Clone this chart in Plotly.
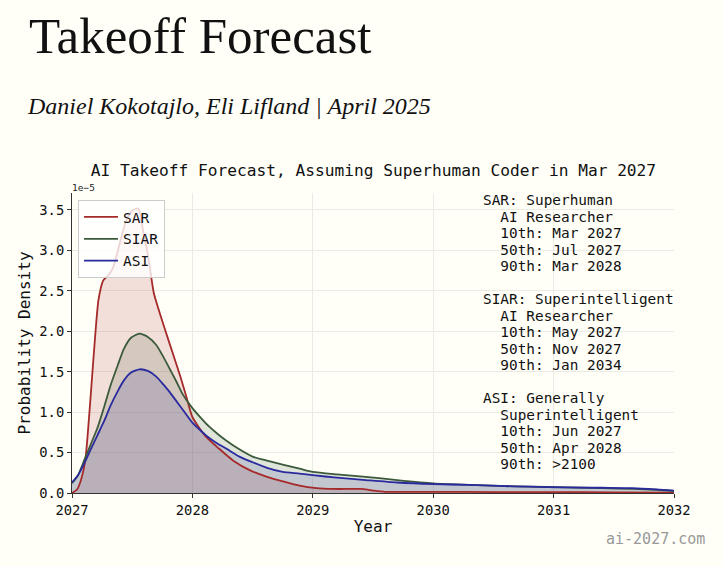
import plotly.graph_objects as go

# ---------------- data (density in units of 1e-5) ----------------
sar_x = [2027.00, 2027.04, 2027.07, 2027.11, 2027.15, 2027.18, 2027.22, 2027.26, 2027.30, 2027.34,
         2027.39, 2027.45, 2027.50, 2027.55, 2027.59, 2027.63, 2027.68, 2027.73, 2027.81, 2027.90,
         2027.95, 2028.00, 2028.11, 2028.22, 2028.34, 2028.48, 2028.62, 2028.76, 2028.89, 2029.03,
         2029.17, 2029.30, 2029.40, 2029.50, 2029.60, 2030.00, 2030.50, 2031.00, 2031.50, 2032.00]
sar_y = [0.00, 0.04, 0.14, 0.40, 1.10, 1.70, 2.39, 2.63, 2.69, 2.78,
         3.05, 3.37, 3.49, 3.52, 3.25, 2.95, 2.47, 2.22, 1.85, 1.44,
         1.19, 0.94, 0.70, 0.55, 0.40, 0.28, 0.20, 0.14, 0.09, 0.06,
         0.05, 0.05, 0.05, 0.03, 0.015, 0.015, 0.012, 0.010, 0.008, 0.005]

siar_x = [2027.00, 2027.05, 2027.10, 2027.15, 2027.21, 2027.27, 2027.32, 2027.38, 2027.43, 2027.49,
          2027.56, 2027.63, 2027.70, 2027.76, 2027.81, 2027.87, 2027.92, 2028.00, 2028.07, 2028.14,
          2028.21, 2028.28, 2028.39, 2028.50, 2028.62, 2028.75, 2028.89, 2029.00, 2029.20, 2029.44,
          2029.70, 2030.00, 2030.30, 2030.55, 2030.80, 2031.10, 2031.40, 2031.66, 2031.85, 2032.00]
siar_y = [0.12, 0.22, 0.40, 0.58, 0.80, 1.08, 1.33, 1.58, 1.78, 1.92,
          1.97, 1.93, 1.83, 1.68, 1.54, 1.37, 1.22, 1.05, 0.93, 0.82,
          0.73, 0.65, 0.54, 0.45, 0.40, 0.35, 0.30, 0.26, 0.23, 0.20,
          0.16, 0.12, 0.10, 0.087, 0.078, 0.070, 0.060, 0.050, 0.040, 0.025]

asi_x = [2027.00, 2027.05, 2027.10, 2027.15, 2027.21, 2027.27, 2027.32, 2027.38, 2027.43, 2027.49,
         2027.56, 2027.63, 2027.70, 2027.76, 2027.81, 2027.87, 2027.92, 2028.00, 2028.07, 2028.14,
         2028.21, 2028.28, 2028.39, 2028.50, 2028.62, 2028.75, 2028.89, 2029.00, 2029.20, 2029.44,
         2029.70, 2030.00, 2030.30, 2030.55, 2030.80, 2031.10, 2031.40, 2031.66, 2031.85, 2032.00]
asi_y = [0.13, 0.22, 0.36, 0.52, 0.71, 0.90, 1.08, 1.26, 1.39, 1.49,
         1.53, 1.51, 1.44, 1.34, 1.25, 1.13, 1.03, 0.87, 0.77, 0.68,
         0.61, 0.55, 0.45, 0.38, 0.31, 0.26, 0.24, 0.22, 0.19, 0.16,
         0.13, 0.11, 0.10, 0.087, 0.078, 0.070, 0.065, 0.060, 0.045, 0.030]

series_names = ["SAR", "SIAR", "ASI"]
x_tick_vals = [2027, 2028, 2029, 2030, 2031, 2032]
x_tick_text = ["2027", "2028", "2029", "2030", "2031", "2032"]
y_tick_vals = [0.0, 0.5, 1.0, 1.5, 2.0, 2.5, 3.0, 3.5]

info_lines = [
    "SAR: Superhuman", "  AI Researcher", "  10th: Mar 2027", "  50th: Jul 2027", "  90th: Mar 2028",
    "",
    "SIAR: Superintelligent", "  AI Researcher", "  10th: May 2027", "  50th: Nov 2027", "  90th: Jan 2034",
    "",
    "ASI: Generally", "  Superintelligent", "  10th: Jun 2027", "  50th: Apr 2028", "  90th: >2100",
]

# ---------------- style ----------------
W, H = 723, 566
L, R, T, B = 72, 674, 193, 493
BG = "#fffff8"
MONO = "DejaVu Sans Mono"
line_colors = ["#a52a2a", "#3b5a3b", "#2a2a9e"]
fill_colors = ["rgba(165,42,42,0.15)", "rgba(47,79,47,0.15)", "rgba(31,31,154,0.15)"]

def px_x(px):
    return (px - L) / (R - L)

def px_y(py):
    return (B - py) / (B - T)

xs = [sar_x, siar_x, asi_x]
ys = [sar_y, siar_y, asi_y]

fig = go.Figure()
for i in range(3):
    fig.add_trace(go.Scatter(
        x=xs[i], y=ys[i], mode="lines", fill="tozeroy",
        fillcolor=fill_colors[i], line=dict(width=0, shape="spline", smoothing=0.6),
        showlegend=False, hoverinfo="skip"))
for i in range(3):
    fig.add_trace(go.Scatter(
        x=xs[i], y=ys[i], mode="lines", name=series_names[i],
        line=dict(color=line_colors[i], width=1.8, shape="spline", smoothing=0.6)))

annotations = []
annotations.append(dict(text="Takeoff Forecast", xref="paper", yref="paper",
                        x=px_x(27), y=px_y(36), xanchor="left", yanchor="middle",
                        showarrow=False, font=dict(family="Liberation Serif", size=51, color="#111111")))
annotations.append(dict(text="<i>Daniel Kokotajlo, Eli Lifland | April 2025</i>", xref="paper", yref="paper",
                        x=px_x(25), y=px_y(106), xanchor="left", yanchor="middle",
                        showarrow=False, font=dict(family="Liberation Serif", size=24, color="#111111")))
annotations.append(dict(text="1e\u22125", xref="paper", yref="paper",
                        x=px_x(70), y=px_y(187.5), xanchor="left", yanchor="middle",
                        showarrow=False, font=dict(family=MONO, size=9.5, color="#222222")))
for k, line in enumerate(info_lines):
    if not line:
        continue
    annotations.append(dict(text=line.replace(" ", "\u00a0"), xref="paper", yref="paper",
                            x=px_x(481), y=px_y(200 + 16.5 * k), xanchor="left", yanchor="middle",
                            showarrow=False, font=dict(family=MONO, size=14.4, color="#111111")))
annotations.append(dict(text="ai-2027.com", xref="paper", yref="paper",
                        x=px_x(707), y=px_y(539), xanchor="right", yanchor="middle",
                        showarrow=False, font=dict(family=MONO, size=15, color="#999999")))

fig.update_layout(
    width=W, height=H,
    margin=dict(l=L, r=W - R, t=T, b=H - B, autoexpand=False),
    paper_bgcolor=BG, plot_bgcolor=BG,
    title=dict(text="AI Takeoff Forecast, Assuming Superhuman Coder in Mar 2027",
               x=px_x(373.5), xref="paper", xanchor="center",
               y=1 - 170 / H, yref="container", yanchor="middle",
               font=dict(family=MONO, size=16.2, color="#111111")),
    font=dict(family=MONO, size=14, color="#111111"),
    legend=dict(x=px_x(78), y=px_y(200), xanchor="left", yanchor="top",
                bgcolor="rgba(255,255,255,0.8)", bordercolor="#cccccc", borderwidth=1,
                font=dict(family=MONO, size=14.5, color="#111111"), tracegroupgap=0,
                itemwidth=34),
    annotations=annotations,
    xaxis=dict(range=[2027, 2032], tickvals=x_tick_vals, ticktext=x_tick_text,
               showgrid=True, gridcolor="#ebebe5", gridwidth=1, zeroline=False,
               showline=True, linecolor="#333333", linewidth=1,
               ticks="outside", ticklen=4, tickcolor="#333333",
               tickfont=dict(family=MONO, size=13.8, color="#111111"),
               title=dict(text="Year", font=dict(family=MONO, size=16, color="#111111"), standoff=4)),
    yaxis=dict(range=[0, 3.71], tickvals=y_tick_vals, tickformat=".1f",
               showgrid=True, gridcolor="#ebebe5", gridwidth=1, zeroline=False,
               showline=True, linecolor="#333333", linewidth=1,
               ticks="outside", ticklen=4, tickcolor="#333333",
               tickfont=dict(family=MONO, size=13.8, color="#111111"),
               title=dict(text="Probability Density", font=dict(family=MONO, size=16, color="#111111"), standoff=4)),
)

fig.write_html("out.html", config={"displayModeBar": False},
               post_script="document.body.style.margin='0';document.body.style.background='#fffff8';"
                           "document.documentElement.style.background='#fffff8';"
                           "document.body.style.overflow='hidden';")
